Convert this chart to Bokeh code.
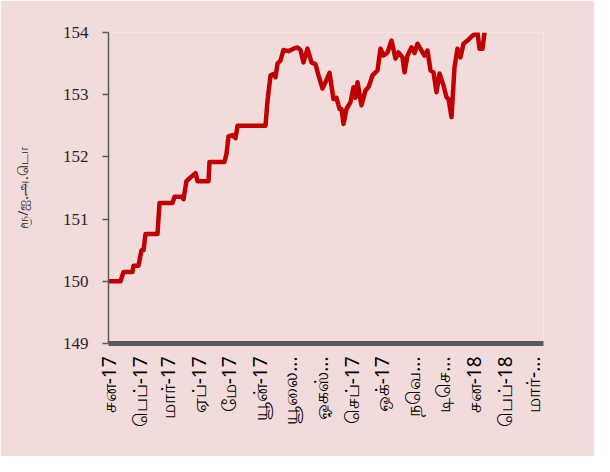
from bokeh.plotting import figure
from bokeh.models import FixedTicker, Range1d
from bokeh.embed import file_html
from bokeh.resources import INLINE
import math

# day offsets from 2017-01-01 and exchange rate (LKR per USD)
days = [0, 12, 15, 24, 25, 30, 33, 35, 37, 49, 51, 64, 66, 73, 75, 78, 82, 87, 89, 100,
        101, 116, 118, 120, 124, 127, 129, 157, 159, 162, 165, 167, 169, 172, 175, 180,
        185, 189, 192, 195, 199, 203, 207, 210, 214, 217, 221, 225, 228, 231, 233, 235,
        238, 242, 245, 247, 249, 253, 257, 260, 264, 269, 272, 275, 279, 283, 287, 290,
        294, 296, 299, 303, 306, 309, 313, 316, 319, 322, 325, 328, 331, 335, 338, 340,
        343, 346, 349, 352, 355, 359, 364, 369, 371, 374, 376]
rates = [150.0, 150.0, 150.15, 150.15, 150.25, 150.25, 150.5, 150.5, 150.76, 150.76,
         151.26, 151.26, 151.36, 151.36, 151.32, 151.61, 151.67, 151.74, 151.61, 151.61,
         151.92, 151.92, 152.05, 152.33, 152.35, 152.3, 152.5, 152.5, 152.9, 153.31,
         153.33, 153.28, 153.5, 153.55, 153.72, 153.7, 153.74, 153.76, 153.72, 153.52,
         153.74, 153.52, 153.49, 153.31, 153.1, 153.2, 153.35, 152.93, 152.95, 152.77,
         152.77, 152.53, 152.77, 152.88, 153.12, 152.95, 153.2, 152.83, 153.07, 153.12,
         153.31, 153.39, 153.74, 153.63, 153.68, 153.87, 153.58, 153.68, 153.6, 153.36,
         153.63, 153.76, 153.67, 153.82, 153.71, 153.63, 153.71, 153.39, 153.36, 153.04,
         153.34, 153.15, 152.96, 152.93, 152.64, 153.44, 153.74, 153.6, 153.82, 153.87,
         153.95, 154.0, 153.74, 153.74, 154.0]

month_ticks = [0, 31, 59, 90, 120, 151, 181, 212, 243, 273, 304, 334, 365, 396, 424]
month_labels = ["சன-17", "பெப்-17", "மார்-17", "ஏப்-17", "மே-17", "யூன்-17", "யூலை...",
                "ஓகஸ்...", "செப்-17", "ஒக்-17", "நவெ...", "டிசெ...", "சன-18", "பெப்-18",
                "மார்-..."]
y_ticks = [149, 150, 151, 152, 153, 154]
y_title = "ரூ/ஐ.அ.டொ"

BG = "#f2dcdb"
AX = "#595959"

p = figure(width=594, height=456, output_backend="svg", toolbar_location=None,
           x_range=Range1d(0, 435), y_range=Range1d(149, 154),
           min_border_left=108, min_border_right=51, min_border_top=32,
           min_border_bottom=113)
p.background_fill_color = BG
p.border_fill_color = BG
p.outline_line_color = None
p.grid.visible = False

p.line(days, rates, line_color="#c00000", line_width=4.5, line_join="round")

# y axis
ya = p.yaxis[0]
ya.ticker = FixedTicker(ticks=y_ticks)
ya.axis_line_color = AX
ya.axis_line_width = 1.5
ya.major_tick_line_color = AX
ya.major_tick_line_width = 1.5
ya.major_tick_out = 6
ya.major_tick_in = 0
ya.minor_tick_line_color = None
ya.major_label_text_font = "Liberation Serif"
ya.major_label_text_font_size = "17px"
ya.major_label_text_color = "#262626"
ya.major_label_standoff = 14
ya.axis_label = y_title
ya.axis_label_text_font = "Noto Sans"
ya.axis_label_text_font_size = "14px"
ya.axis_label_text_font_style = "normal"
ya.axis_label_text_color = "#262626"
ya.axis_label_standoff = 28

# x axis
xa = p.xaxis[0]
xa.ticker = FixedTicker(ticks=month_ticks)
xa.major_label_overrides = {t: l for t, l in zip(month_ticks, month_labels)}
xa.major_label_orientation = math.pi / 2
xa.axis_line_color = AX
xa.axis_line_width = 5
xa.major_tick_line_color = None
xa.minor_tick_line_color = None
xa.major_label_text_font = "Noto Sans"
xa.major_label_text_font_size = "19px"
xa.major_label_text_color = "#000000"
xa.major_label_standoff = 7

open("out.html", "w").write(file_html(p, INLINE))
